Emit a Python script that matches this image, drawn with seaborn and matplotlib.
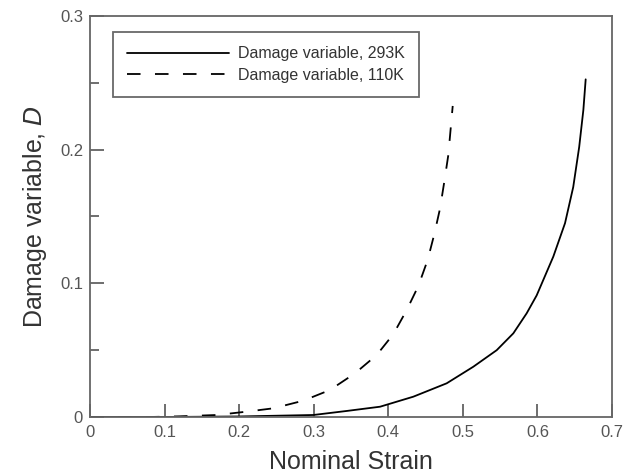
import numpy as np
import pandas as pd
import matplotlib
matplotlib.use("Agg")
import matplotlib.pyplot as plt
from matplotlib.ticker import MultipleLocator, FuncFormatter
import seaborn as sns

# curve values
strain_293k = [0.0, 0.1, 0.2, 0.2995, 0.344, 0.389, 0.4336, 0.4783, 0.514, 0.5454,
               0.5677, 0.5856, 0.599, 0.6213, 0.637, 0.648, 0.656, 0.6616, 0.6647]
damage_293k = [0.0, 0.0, 0.0004, 0.0015, 0.0045, 0.0077, 0.0152, 0.0252, 0.0376, 0.050,
               0.0626, 0.0776, 0.091, 0.120, 0.145, 0.172, 0.202, 0.2297, 0.2526]

strain_110k = [0.0, 0.08, 0.12, 0.17, 0.2101, 0.2458, 0.286, 0.3218, 0.3554, 0.3845,
               0.4068, 0.4247, 0.4403, 0.4528, 0.4618, 0.4694, 0.4751, 0.4805, 0.4837, 0.4864]
damage_110k = [0.0, 0.0, 0.0005, 0.0015, 0.004, 0.0065, 0.0122, 0.0202, 0.0327, 0.0464,
               0.0620, 0.080, 0.098, 0.1175, 0.137, 0.156, 0.176, 0.196, 0.216, 0.2327]

labels = ["Damage variable, 293K", "Damage variable, 110K"]

sns.set_style("white")
plt.rcParams['font.family'] = ['Liberation Sans', 'DejaVu Sans']

df = pd.concat([
    pd.DataFrame({"strain": strain_293k, "D": damage_293k, "series": labels[0]}),
    pd.DataFrame({"strain": strain_110k, "D": damage_110k, "series": labels[1]}),
])

fig = plt.figure(figsize=(6.33, 4.75), dpi=100)
ax = fig.add_axes([90 / 633, 58 / 475, 522 / 633, 401 / 475])

for name, ls in zip(labels, ["-", (0, (7.5, 8))]):
    sub = df[df["series"] == name]
    sns.lineplot(data=sub, x="strain", y="D", ax=ax, color="black", linewidth=1.3,
                 linestyle=ls, label=name, sort=False, estimator=None)

ax.set_xlim(0, 0.7)
ax.set_ylim(0, 0.3)
ax.xaxis.set_major_locator(MultipleLocator(0.1))
ax.yaxis.set_major_locator(MultipleLocator(0.1))
ax.yaxis.set_minor_locator(MultipleLocator(0.05))
fmt = FuncFormatter(lambda v, p: f"{v:g}")
ax.xaxis.set_major_formatter(fmt)
ax.yaxis.set_major_formatter(fmt)

ax.tick_params(which="both", direction="in", colors="#555555", labelsize=12,
               bottom=True, left=True, top=False, right=False, width=1.2)
ax.tick_params(axis="y", which="major", length=10, pad=5)
ax.tick_params(axis="y", which="minor", length=6.5)
ax.tick_params(axis="x", which="major", length=9.5, pad=6)
for s in ax.spines.values():
    s.set_color("#666666")
    s.set_linewidth(1.3)

ax.set_xlabel("Nominal Strain", fontsize=18, color="#333333", labelpad=7)
ax.set_ylabel("Damage variable, $\\mathit{D}$", fontsize=18, color="#333333", labelpad=8)

leg = ax.legend(loc="upper left", bbox_to_anchor=(22.5 / 522, 385 / 401), fontsize=11.5,
                handlelength=6.4, frameon=True, fancybox=False, edgecolor="#444444",
                borderpad=0.9, labelspacing=0.42, handletextpad=0.55, borderaxespad=0)
leg.get_frame().set_linewidth(1.3)
for t in leg.get_texts():
    t.set_color("#333333")

fig.savefig("out.png", dpi=100)
